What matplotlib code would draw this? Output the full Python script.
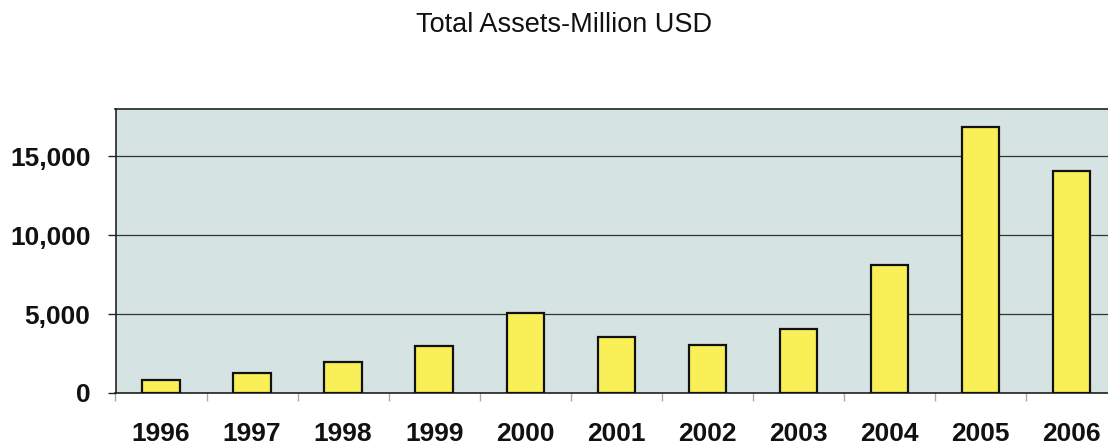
import matplotlib
matplotlib.use('Agg')
import matplotlib.pyplot as plt
from matplotlib.ticker import FuncFormatter, FixedLocator
import numpy as np

matplotlib.rcParams['font.family'] = ['Liberation Sans', 'DejaVu Sans']

years = ['1996', '1997', '1998', '1999', '2000', '2001',
         '2002', '2003', '2004', '2005', '2006']
assets = [850, 1270, 1950, 2950, 5050, 3580, 3050, 4080, 8100, 16850, 14050]

fig = plt.figure(figsize=(11.08, 4.46), dpi=100)
# plot area runs past the right edge of the figure on purpose
ax = fig.add_axes([115.5 / 1108, 53 / 446, (1117 - 115.5) / 1108, 284 / 446])
ax.set_facecolor('#d6e3e3')

x = np.arange(len(years))
ax.bar(x, assets, width=0.41, color='#f9f058', edgecolor='#111111',
       linewidth=1.6, zorder=3)

ax.set_xlim(-0.5, len(years) - 0.5)
ax.set_ylim(0, 18000)
ax.set_yticks([0, 5000, 10000, 15000])
ax.yaxis.set_major_formatter(FuncFormatter(lambda v, p: '{:,.0f}'.format(v)))
ax.grid(axis='y', color='#333333', linewidth=0.9, zorder=1)

ax.set_xticks(x)
ax.set_xticklabels(years)
ax.xaxis.set_minor_locator(FixedLocator(np.arange(-0.5, len(years), 1.0)))
ax.tick_params(axis='x', which='major', length=0, pad=21)
ax.tick_params(axis='x', which='minor', length=6, color='#aaaaaa', width=1)
ax.tick_params(axis='y', length=6, width=1, color='#222222', pad=12)

for lab in ax.get_xticklabels() + ax.get_yticklabels():
    lab.set_fontsize(19)
    lab.set_fontweight('bold')
    lab.set_color('#111111')

for side in ['left', 'top', 'bottom']:
    ax.spines[side].set_color('#222222')
    ax.spines[side].set_linewidth(1.2)
ax.spines['right'].set_visible(False)

fig.text(564 / 1108, 1 - 25 / 446, 'Total Assets-Million USD', ha='center',
         va='center', fontsize=19.5, color='#111111')

fig.savefig('out.png', dpi=100)
